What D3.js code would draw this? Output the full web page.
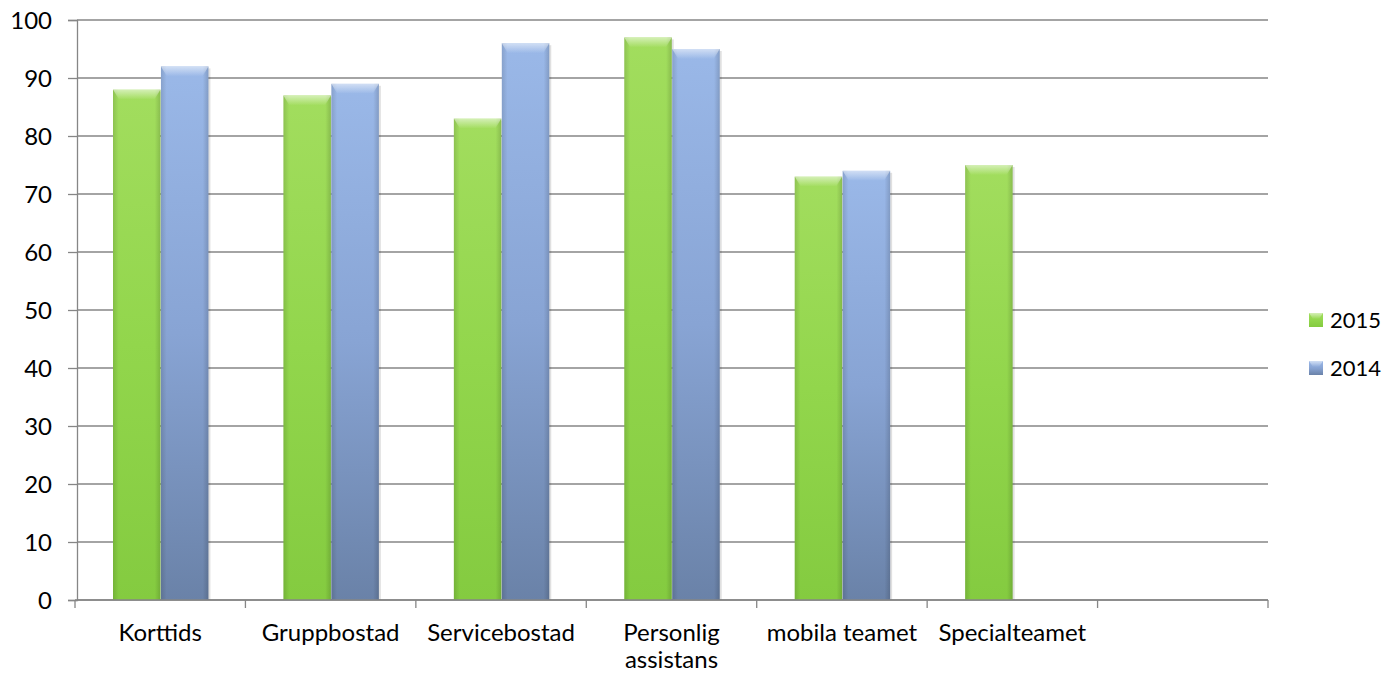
<!DOCTYPE html>
<html>
<head>
<meta charset="utf-8">
<script src="https://cdn.jsdelivr.net/npm/d3@7"></script>
<style>
  body { margin: 0; background: #fff; }
  svg text { font-family: Lato, "Open Sans", sans-serif; fill: #000; }
</style>
</head>
<body>
<svg id="chart" width="1390" height="675"></svg>
<script>
// data
var categories = ["Korttids", "Gruppbostad", "Servicebostad", "Personlig assistans", "mobila teamet", "Specialteamet", ""];
var series2015 = [88, 87, 83, 97, 73, 75, null];
var series2014 = [92, 89, 96, 95, 74, null, null];
var seriesNames = ["2015", "2014"];
var yTicks = [0, 10, 20, 30, 40, 50, 60, 70, 80, 90, 100];

var svg = d3.select("#chart");
var margin = { left: 77, right: 122, top: 20, bottom: 75 };
var width = 1390 - margin.left - margin.right,
    height = 675 - margin.top - margin.bottom;
var fontSize = "24px";

var defs = svg.append("defs");
function grad(id, stops, horiz) {
  var g = defs.append("linearGradient").attr("id", id)
    .attr("x1", 0).attr("y1", 0).attr("x2", horiz ? 1 : 0).attr("y2", horiz ? 0 : 1);
  stops.forEach(function(s) {
    g.append("stop").attr("offset", s[0]).attr("stop-color", s[1]);
  });
}
grad("gGreen", [[0, "#a2dd5e"], [0.5, "#92d64c"], [1, "#84cb40"]], false);
grad("gBlue", [[0, "#9ab8e8"], [0.5, "#88a4d4"], [1, "#6a82a8"]], false);
grad("sGreen", [[0, "rgba(0,0,0,0.12)"], [0.12, "rgba(0,0,0,0)"], [0.88, "rgba(0,0,0,0)"], [1, "rgba(0,0,0,0.15)"]], true);
grad("hTop", [[0, "rgba(255,255,255,0.55)"], [1, "rgba(255,255,255,0)"]], false);

var colors = [{ fill: "url(#gGreen)" }, { fill: "url(#gBlue)" }];

var g = svg.append("g").attr("transform", "translate(" + margin.left + "," + margin.top + ")");

var x = d3.scaleBand().domain(d3.range(categories.length)).range([-2, width]);
var y = d3.scaleLinear().domain([0, 100]).range([height, 0]);
var sub = d3.scaleBand().domain([0, 1]).range([38, x.bandwidth() - 37]).paddingInner(0.01);

// gridlines
g.selectAll(".grid").data(yTicks).enter().append("line")
  .attr("x1", 0).attr("x2", width)
  .attr("y1", function(d) { return y(d); }).attr("y2", function(d) { return y(d); })
  .attr("stroke", "#868686").attr("stroke-width", 1.3);

// y axis
var yAxis = g.append("g").call(d3.axisLeft(y).tickValues(yTicks).tickSize(9).tickPadding(16));
yAxis.select(".domain").attr("stroke", "#868686").attr("stroke-width", 1.3);
yAxis.selectAll(".tick line").attr("stroke", "#868686").attr("stroke-width", 1.3);
yAxis.selectAll("text").style("font-size", fontSize).attr("fill", "#000").attr("dy", "0.35em");

// bars
var data = [series2015, series2014];
data.forEach(function(vals, si) {
  vals.forEach(function(v, ci) {
    if (v == null) return;
    var bx = x(ci) + sub(si), bw = sub.bandwidth();
    var by = y(v), bh = height - y(v);
    var bg = g.append("g");
    bg.append("rect").attr("x", bx + 2).attr("y", by + 2).attr("width", bw).attr("height", bh - 2)
      .attr("fill", "rgba(0,0,0,0.12)");
    bg.append("rect").attr("x", bx).attr("y", by).attr("width", bw).attr("height", bh)
      .attr("fill", colors[si].fill);
    bg.append("rect").attr("x", bx).attr("y", by).attr("width", bw).attr("height", bh)
      .attr("fill", "url(#sGreen)");
    bg.append("path")
      .attr("d", "M" + bx + "," + by + "h" + bw + "l-6,10h" + (-(bw - 12)) + "z")
      .attr("fill", "url(#hTop)");
  });
});

// x axis
var xAxis = g.append("g").attr("transform", "translate(0," + height + ")");
xAxis.append("line").attr("x1", -2).attr("x2", width).attr("stroke", "#868686").attr("stroke-width", 1.3);
var bounds = d3.range(categories.length + 1).map(function(i) { return i < categories.length ? x(i) : width; });
xAxis.selectAll(".tk").data(bounds).enter().append("line")
  .attr("x1", function(d) { return d; }).attr("x2", function(d) { return d; })
  .attr("y1", 0).attr("y2", 8).attr("stroke", "#868686").attr("stroke-width", 1.3);
xAxis.selectAll(".lbl").data(categories).enter().append("text")
  .attr("text-anchor", "middle")
  .style("font-size", fontSize)
  .each(function(d, i) {
    var words = d === "Personlig assistans" ? ["Personlig", "assistans"] : [d];
    var t = d3.select(this);
    words.forEach(function(w, j) {
      t.append("tspan").attr("x", x(i) + x.bandwidth() / 2).attr("y", 41 + j * 27).text(w);
    });
  });

// legend
var leg = svg.append("g").attr("transform", "translate(1309,320)");
seriesNames.forEach(function(n, i) {
  var lg = leg.append("g").attr("transform", "translate(0," + i * 48 + ")");
  lg.append("rect").attr("x", 0).attr("y", -7).attr("width", 14).attr("height", 14).attr("fill", colors[i].fill);
  lg.append("path").attr("d", "M0,-7h14l-4,6h-6z").attr("fill", "url(#hTop)");
  lg.append("text").attr("x", 21).attr("y", 7.5).style("font-size", "22px").text(n);
});
</script>
</body>
</html>
